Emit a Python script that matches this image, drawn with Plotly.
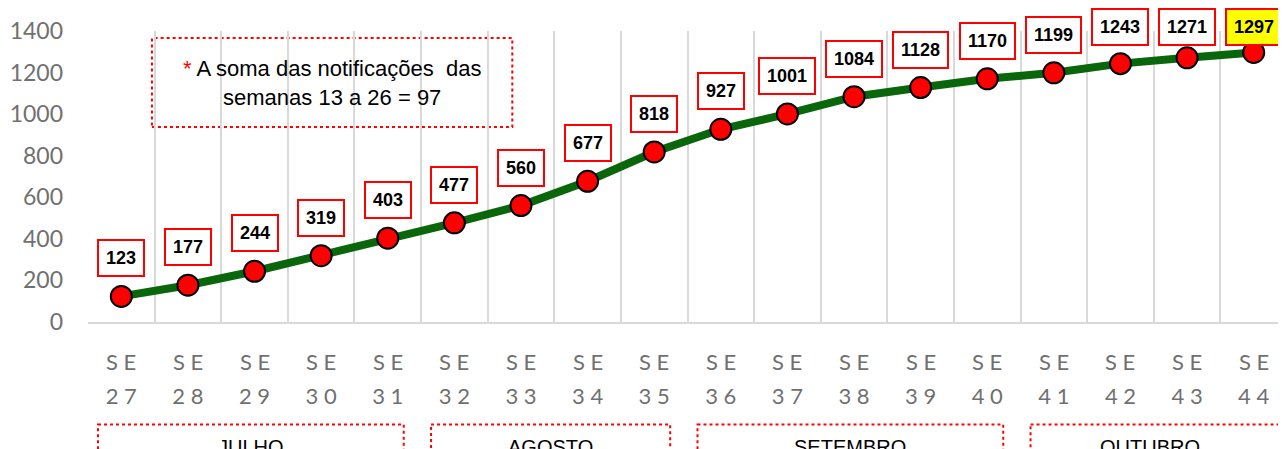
import plotly.graph_objects as go

weeks = [str(w) for w in range(27, 45)]
cases = [123, 177, 244, 319, 403, 477, 560, 677, 818, 927,
         1001, 1084, 1128, 1170, 1199, 1243, 1271, 1297]
months = ["JULHO", "AGOSTO", "SETEMBRO", "OUTUBRO"]
month_first = [0, 5, 9, 14]
month_last = [4, 8, 13, 17]
y_ticks = [0, 200, 400, 600, 800, 1000, 1200, 1400]
note_text = ('<span style="color:#ff0000">*</span> A soma das notificações  das<br>'
             'semanas 13 a 26 = 97')

idx = list(range(len(weeks)))
x_font = dict(family="Lato, Liberation Sans, Arial", size=22, color="#707070")
y_font = dict(family="Lato, Liberation Sans, Arial", size=23, color="#707070")

# plot geometry (px)
W, H = 1286, 449
M_T, M_B = 23, 135
Y_MAX = 1400
plot_h = H - M_T - M_B
LABEL_GAP, LABEL_H = 19, 38

fig = go.Figure()

fig.add_trace(
    go.Scatter(
        x=idx,
        y=cases,
        mode="lines+markers",
        line=dict(color="#0a660a", width=8),
        marker=dict(color="#ff0000", size=21, line=dict(color="black", width=2)),
        showlegend=False,
        hoverinfo="x+y",
    )
)

# value boxes above the points; the ones that would leave the page stick to the top edge
for i, v in zip(idx, cases):
    last = i == idx[-1]
    box_top = M_T + (Y_MAX - v) * plot_h / Y_MAX - LABEL_GAP - LABEL_H
    common = dict(
        x=i, xref="x",
        text=f"<b>{v}</b>",
        showarrow=False,
        font=dict(family="Liberation Sans, Arial", size=18, color="black"),
        bgcolor="#ffff00" if last else "white",
        bordercolor="#ff0000",
        borderwidth=2,
        borderpad=7,
    )
    if box_top < 0:
        fig.add_annotation(y=1, yref="paper", yanchor="top", yshift=M_T, **common)
    else:
        fig.add_annotation(y=v, yref="y", yanchor="bottom", yshift=LABEL_GAP, **common)

# "SE" line of the week labels
for i in idx:
    fig.add_annotation(
        x=i, y=-0.135, xref="x", yref="paper",
        text="S E", showarrow=False, yanchor="middle",
        font=x_font,
    )

# note box
fig.add_shape(type="rect", xref="x", yref="y", x0=0.46, x1=5.87, y0=938, y1=1366,
              line=dict(color="#ff0000", width=2, dash="dot"), fillcolor="white", layer="below")
fig.add_annotation(
    x=(0.46 + 5.87) / 2, y=(938 + 1366) / 2, xref="x", yref="y",
    text=note_text, showarrow=False, align="center",
    font=dict(family="Liberation Sans, Arial", size=22, color="black"),
)

# month boxes under the axis
for name, a, b in zip(months, month_first, month_last):
    x0 = a - 0.35
    x1 = b + 0.24 if b < idx[-1] else b + 1
    fig.add_shape(type="rect", xref="x", yref="paper", x0=x0, x1=x1, y0=-0.352, y1=-0.55,
                  line=dict(color="#ff0000", width=2, dash="dot"))
    fig.add_annotation(
        x=(a - 0.35 + b + 0.24) / 2, y=-0.43, xref="x", yref="paper",
        text=name, showarrow=False, yanchor="middle",
        font=dict(family="Liberation Sans, Arial", size=20, color="black"),
    )

fig.update_xaxes(
    type="linear",
    range=[-0.5, 17.5],
    tickvals=idx,
    ticktext=[" ".join(w) for w in weeks],
    tickfont=x_font,
    ticks="",
    ticklabelstandoff=54,
    showgrid=False,
    showline=True,
    linecolor="#d9d9d9",
    linewidth=2,
    minor=dict(tickvals=[i - 0.5 for i in idx] + [17.5], showgrid=True,
               gridcolor="#d9d9d9", gridwidth=2),
    zeroline=False,
    automargin=False,
)
fig.update_yaxes(
    range=[0, Y_MAX],
    tickvals=y_ticks,
    tickfont=y_font,
    showgrid=False,
    zeroline=False,
    ticks="",
    ticklabelstandoff=24,
    automargin=False,
)

fig.update_layout(
    width=W,
    height=H,
    margin=dict(l=80, r=7, t=M_T, b=M_B),
    plot_bgcolor="white",
    paper_bgcolor="white",
)

fig.write_html("out.html")
